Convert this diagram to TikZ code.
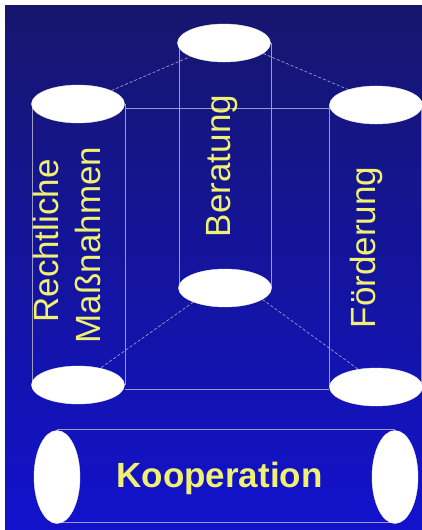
\documentclass[tikz,border=0pt]{standalone}
\usepackage{fontspec}
\setmainfont{Liberation Sans}
\usetikzlibrary{shapes.geometric}
\definecolor{bgtop}{RGB}{22,22,110}
\definecolor{bgbot}{RGB}{18,18,205}
\definecolor{edgeline}{RGB}{155,155,195}
\definecolor{txtyellow}{RGB}{240,240,115}
\tikzset{
  disc/.style={ellipse, fill=white, draw=white!85!gray, line width=0.4pt, inner sep=0pt},
  hdisc/.style={disc, minimum width=93pt, minimum height=38pt},
  vdisc/.style={disc, minimum width=46pt, minimum height=93pt},
  edge/.style={draw=edgeline, line width=0.8pt},
  dashedge/.style={draw=edgeline, line width=0.7pt, dash pattern=on 3pt off 2pt},
  label/.style={text=txtyellow, font=\fontsize{35}{42}\selectfont, inner sep=0pt},
  boldlabel/.style={label, font=\fontsize{35}{42}\selectfont\bfseries}
}
\begin{document}
\begin{tikzpicture}[x=1pt, y=-1pt]
\useasboundingbox (0,0) rectangle (422,530);
\fill[white] (0,0) rectangle (422,530);
\shade[top color=bgtop, bottom color=bgbot] (5,5) rectangle (422,530);

% cylinder outlines
\coordinate (l1) at (32,104);  \coordinate (l2) at (32,385);
\coordinate (l3) at (125,104); \coordinate (l4) at (125,385);
\coordinate (m1) at (179,43);  \coordinate (m2) at (179,288);
\coordinate (m3) at (271,43);  \coordinate (m4) at (271,288);
\coordinate (r1) at (329,105); \coordinate (r2) at (329,387);
\coordinate (r3) at (421,105); \coordinate (r4) at (421,387);
\coordinate (ht1) at (125,108); \coordinate (ht2) at (329,108);
\coordinate (hb1) at (125,389); \coordinate (hb2) at (329,389);
\coordinate (k1) at (57,429);  \coordinate (k2) at (395,429);
\coordinate (k3) at (57,522);  \coordinate (k4) at (395,522);

\path[edge] (l1) -- (l2) (l3) -- (l4) (m1) -- (m2) (m3) -- (m4)
  (r1) -- (r2) (r3) -- (r4) (ht1) -- (ht2) (hb1) -- (hb2)
  (k1) -- (k2) (k3) -- (k4);

% discs
\node[hdisc] (bt) at (224,43) {};
\node[hdisc] (bb) at (225,288) {};
\node[hdisc] (lt) at (78,104) {};
\node[hdisc] (lb) at (78,385) {};
\node[hdisc] (rt) at (376,105) {};
\node[hdisc] (rb) at (376,387) {};
\node[vdisc] (kl) at (57,477) {};
\node[vdisc] (kr) at (395,477) {};

% dashed connectors
\path[dashedge] (lt.22) -- (bt.202);
\path[dashedge] (bt.-15) -- (rt.151);
\path[dashedge] (bb.204) -- (lb.37);
\path[dashedge] (bb.-17) -- (rb.135);

% labels
\node[label, rotate=90, anchor=base] (t1) at (58,241) {Rechtliche};
\node[label, rotate=90, anchor=base] (t2) at (100,245) {Maßnahmen};
\node[label, rotate=90, anchor=base] (t3) at (230,166) {Beratung};
\node[label, rotate=90, anchor=base] (t4) at (375,247.5) {Förderung};
\node[boldlabel, anchor=base] (t5) at (219.5,487) {Kooperation};
\end{tikzpicture}
\end{document}
